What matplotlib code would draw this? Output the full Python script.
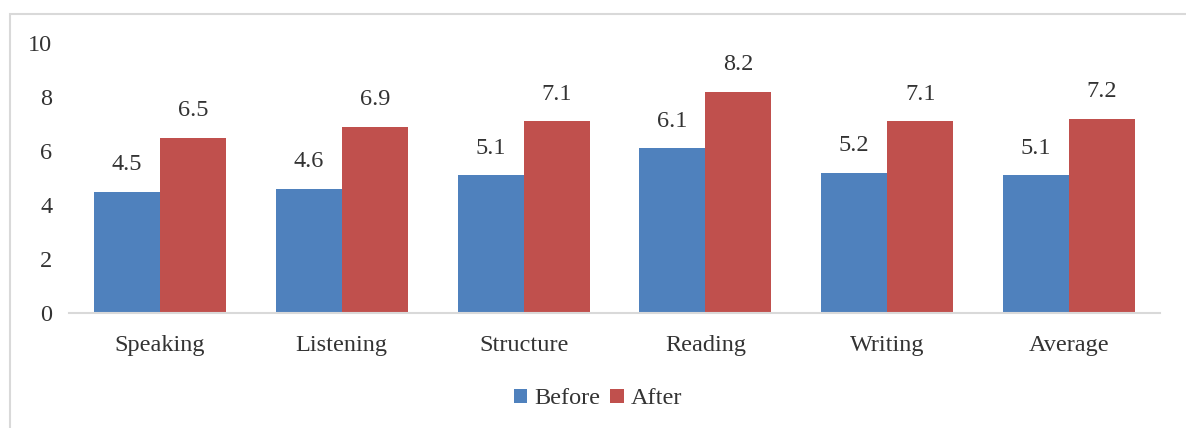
import matplotlib
matplotlib.use("Agg")
import matplotlib.pyplot as plt
import numpy as np
from matplotlib.patches import Rectangle

categories = ["Speaking", "Listening", "Structure", "Reading", "Writing", "Average"]
before = [4.5, 4.6, 5.1, 6.1, 5.2, 5.1]
after = [6.5, 6.9, 7.1, 8.2, 7.1, 7.2]
series_names = ["Before", "After"]
y_ticks = [0, 2, 4, 6, 8, 10]

BLUE = "#4F81BD"
RED = "#C0504D"
TEXT = "#333333"
GRID = "#D9D9D9"
FS = 17.5

plt.rcParams["font.family"] = ["Liberation Serif", "DejaVu Serif"]

fig = plt.figure(figsize=(11.86, 4.28), dpi=100)
ax = fig.add_axes([69 / 1186, 1 - 313 / 428, (1160 - 69) / 1186, (313 - 43) / 428])

# chart-area frame
fig.patches.append(Rectangle((10 / 1186, -0.1), 1.2, 1 - 14 / 428 + 0.1,
                             transform=fig.transFigure, fill=False,
                             edgecolor=GRID, linewidth=1.5))

x = np.arange(len(categories))
w = 66 / 182
b1 = ax.bar(x - w / 2, before, w, color=BLUE, label=series_names[0])
b2 = ax.bar(x + w / 2, after, w, color=RED, label=series_names[1])

for bars, vals in ((b1, before), (b2, after)):
    for rect, v in zip(bars, vals):
        ax.annotate(f"{v:.1f}", (rect.get_x() + rect.get_width() / 2, v),
                    xytext=(0, 12), textcoords="offset points",
                    ha="center", va="bottom", fontsize=FS, color=TEXT)

ax.set_xlim(-0.5, len(categories) - 0.5)
ax.set_ylim(0, 10)
ax.set_yticks(y_ticks)
ax.set_xticks(x)
ax.set_xticklabels(categories)
ax.tick_params(axis="both", length=0, labelsize=FS, colors=TEXT)
ax.tick_params(axis="y", pad=12)
ax.tick_params(axis="x", pad=16)
for s in ("top", "right", "left"):
    ax.spines[s].set_visible(False)
ax.spines["bottom"].set_color(GRID)
ax.spines["bottom"].set_linewidth(1.5)

fig.legend(loc="center", bbox_to_anchor=(598 / 1186, 1 - 399 / 428), ncol=2,
           frameon=False, fontsize=FS, handlelength=0.55, handleheight=0.55,
           handletextpad=0.3, columnspacing=0.4, labelcolor=TEXT)

fig.savefig("out.png", dpi=100)
